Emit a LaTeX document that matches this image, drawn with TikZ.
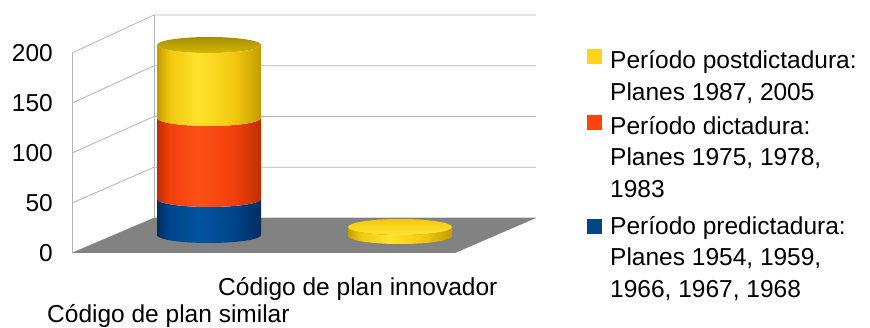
\documentclass[tikz,border=0pt]{standalone}
\usepackage{fontspec}
\setmainfont{Liberation Sans}
\definecolor{yD}{HTML}{C29C00}
\definecolor{yM}{HTML}{F2C80E}
\definecolor{yL}{HTML}{FFE22E}
\definecolor{rD}{HTML}{BE2E00}
\definecolor{rM}{HTML}{F2400C}
\definecolor{rL}{HTML}{FF5018}
\definecolor{bD}{HTML}{002E60}
\definecolor{bM}{HTML}{00458A}
\definecolor{bL}{HTML}{0254A0}
\definecolor{legY}{HTML}{FFD320}
\definecolor{legR}{HTML}{FF420E}
\definecolor{legB}{HTML}{004586}
\definecolor{gridC}{HTML}{B3B3B3}
\definecolor{floorC}{HTML}{828282}
\definecolor{topD}{HTML}{A48E00}
\definecolor{topL}{HTML}{D6B600}
\pgfdeclarehorizontalshading{cylY}{100bp}{color(0bp)=(yD); color(25bp)=(yD); color(31bp)=(yM); color(45bp)=(yL); color(62bp)=(yM); color(75bp)=(yD); color(100bp)=(yD)}
\pgfdeclarehorizontalshading{cylR}{100bp}{color(0bp)=(rD); color(25bp)=(rD); color(31bp)=(rM); color(45bp)=(rL); color(62bp)=(rM); color(75bp)=(rD); color(100bp)=(rD)}
\pgfdeclarehorizontalshading{cylB}{100bp}{color(0bp)=(bD); color(25bp)=(bD); color(31bp)=(bM); color(45bp)=(bL); color(62bp)=(bM); color(75bp)=(bD); color(100bp)=(bD)}
\tikzset{
  grid/.style={draw=gridC, line width=0.8pt},
  lab/.style={inner sep=0pt, font=\fontsize{24.5pt}{31.5pt}\selectfont},
  legtext/.style={lab, align=left, anchor=base west},
  sq/.style={inner sep=0pt, minimum size=15pt, draw=none},
}
\begin{document}
\begin{tikzpicture}[x=1pt, y=-1pt]
\useasboundingbox (0,0) rectangle (870,328);
% walls
\foreach \k in {0,1,2,3,4} {
  \pgfmathsetmacro{\yf}{253-50*\k}
  \pgfmathsetmacro{\yb}{218-50.75*\k}
  \draw[grid] (72,\yf) -- (154,\yb) -- (536,\yb);
}
\draw[grid] (72,53) -- (72,253);
\draw[grid] (154,15) -- (154,218);
% floor
\fill[floorC] (72,253) -- (455,253) -- (536,218) -- (154,218) -- cycle;
% cylinder 1
\path[shading=cylB] (157,199) -- (157,235) arc[start angle=180, end angle=0, x radius=52, y radius=8] -- (261,199) arc[start angle=0, end angle=180, x radius=52, y radius=8] -- cycle;
\path[shading=cylR] (157,118) -- (157,199) arc[start angle=180, end angle=0, x radius=52, y radius=8] -- (261,118) arc[start angle=0, end angle=180, x radius=52, y radius=8] -- cycle;
\path[shading=cylY] (157,45) -- (157,118) arc[start angle=180, end angle=0, x radius=52, y radius=8] -- (261,45) arc[start angle=0, end angle=180, x radius=52, y radius=8] -- cycle;
\path[top color=topD, bottom color=topL] (209,45) ellipse[x radius=52, y radius=8];
% cylinder 2 (disc)
\path[shading=cylY] (348,227) -- (348,236) arc[start angle=180, end angle=0, x radius=52, y radius=8] -- (452,227) arc[start angle=0, end angle=180, x radius=52, y radius=8] -- cycle;
\path[top color=yM, bottom color=yL] (400,227) ellipse[x radius=52, y radius=8];
% tick labels
\node[lab, anchor=base east] (t0) at (53,262) {0};
\node[lab, anchor=base east] (t50) at (53,212) {50};
\node[lab, anchor=base east] (t100) at (53,162) {100};
\node[lab, anchor=base east] (t150) at (53,112) {150};
\node[lab, anchor=base east] (t200) at (53,62) {200};
% axis labels
\node[lab, anchor=base west] (xl1) at (218,296) {Código de plan innovador};
\node[lab, anchor=base west] (xl2) at (47,323) {Código de plan similar};
% legend
\node[sq, fill=legY] (sqY) at (594.5,56.5) {};
\node[sq, fill=legR] (sqR) at (594.5,122.5) {};
\node[sq, fill=legB] (sqB) at (594.5,226.5) {};
\node[legtext] (lgY) at (610,100.5) {Período postdictadura:\\Planes 1987, 2005};
\node[legtext] (lgR) at (610,197.5) {Período dictadura:\\Planes 1975, 1978,\\1983};
\node[legtext] (lgB) at (610,297.5) {Período predictadura:\\Planes 1954, 1959,\\1966, 1967, 1968};
\end{tikzpicture}
\end{document}
